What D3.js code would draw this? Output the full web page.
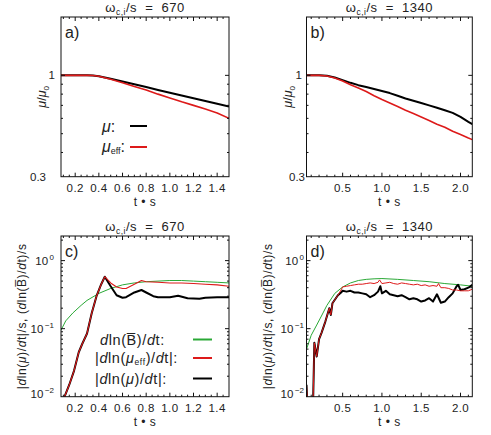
<!DOCTYPE html>
<html><head><meta charset="utf-8">
<script src="https://cdn.jsdelivr.net/npm/d3@7"></script>
<style>body{margin:0;background:#fff}svg{display:block}text{font-family:"Liberation Sans",Arial,sans-serif;fill:#222}</style>
</head><body><svg id="c" width="491" height="435"></svg>
<script>
// ---------- data ----------
const tA      = [0.08,0.2,0.3,0.35,0.4,0.45,0.5,0.6,0.7,0.8,0.9,1.0,1.1,1.2,1.3,1.4,1.5];
const muA     = [1,1,1,0.998,0.99,0.975,0.96,0.929,0.899,0.87,0.841,0.814,0.788,0.762,0.737,0.713,0.69];
const muEffA  = [1,1,1,0.998,0.99,0.972,0.955,0.915,0.875,0.84,0.80,0.765,0.73,0.70,0.67,0.64,0.60];

const tB      = [0.04,0.2,0.3,0.4,0.5,0.6,0.7,0.8,0.9,1.0,1.1,1.2,1.3,1.4,1.5,1.6,1.7,1.8,1.9,2.0,2.1,2.15];
const muB     = [1,1,0.995,0.975,0.945,0.915,0.89,0.87,0.85,0.83,0.81,0.785,0.76,0.74,0.72,0.70,0.68,0.66,0.64,0.61,0.575,0.56];
const muEffB  = [1,1,0.993,0.97,0.935,0.895,0.86,0.825,0.785,0.75,0.72,0.69,0.66,0.635,0.61,0.585,0.56,0.54,0.515,0.495,0.475,0.466];

const tCmu    = [0.11,0.15,0.19,0.23,0.26,0.30,0.34,0.38,0.42,0.45,0.5,0.55,0.6,0.63,0.7,0.76,0.8,0.86,0.9,1.0,1.07,1.15,1.25,1.3,1.4,1.5];
const rateMuC = [0.010,0.015,0.024,0.045,0.060,0.085,0.17,0.30,0.45,0.58,0.42,0.31,0.285,0.29,0.34,0.37,0.34,0.30,0.29,0.29,0.305,0.28,0.275,0.285,0.29,0.29];
const tCeff   = [0.11,0.15,0.19,0.23,0.26,0.30,0.34,0.38,0.42,0.45,0.5,0.55,0.6,0.63,0.7,0.76,0.8,0.9,1.0,1.1,1.2,1.3,1.4,1.5];
const rateEffC= [0.010,0.015,0.024,0.045,0.060,0.085,0.17,0.30,0.45,0.58,0.47,0.41,0.39,0.39,0.45,0.51,0.49,0.48,0.47,0.47,0.46,0.45,0.44,0.42];
const tCb     = [0.08,0.12,0.18,0.25,0.3,0.4,0.5,0.6,0.7,0.8,0.9,1.0,1.1,1.2,1.3,1.4,1.5];
const rateBC  = [0.095,0.13,0.17,0.22,0.26,0.33,0.39,0.44,0.47,0.49,0.50,0.51,0.51,0.50,0.49,0.48,0.47];

const tDmu    = [0.04,0.06,0.12,0.14,0.17,0.20,0.23,0.28,0.33,0.35,0.37,0.44,0.48,0.5,0.55,0.6,0.65,0.7,0.75,0.8,0.85,0.9,0.95,0.98,1.0,1.05,1.1,1.15,1.2,1.25,1.3,1.35,1.4,1.45,1.5,1.55,1.6,1.65,1.7,1.75,1.8,1.85,1.9,1.95,1.97,2.0,2.05,2.1,2.15];
const rateMuD = [0.015,0.005,0.005,0.062,0.039,0.07,0.086,0.127,0.2,0.159,0.236,0.31,0.34,0.36,0.35,0.36,0.34,0.34,0.33,0.32,0.29,0.31,0.35,0.42,0.33,0.36,0.32,0.31,0.30,0.31,0.29,0.27,0.28,0.27,0.25,0.26,0.28,0.25,0.32,0.24,0.25,0.29,0.33,0.42,0.44,0.37,0.38,0.40,0.44];
const tDeff   = [0.04,0.06,0.12,0.14,0.17,0.20,0.23,0.28,0.33,0.35,0.37,0.44,0.48,0.5,0.55,0.6,0.65,0.7,0.75,0.8,0.85,0.9,0.95,0.97,1.0,1.05,1.1,1.15,1.2,1.25,1.3,1.35,1.4,1.45,1.5,1.55,1.6,1.65,1.7,1.72,1.75,1.8,1.85,1.9,1.95,2.0,2.05,2.1,2.15];
const rateEffD= [0.015,0.005,0.005,0.062,0.039,0.07,0.086,0.127,0.2,0.159,0.236,0.31,0.37,0.41,0.42,0.43,0.44,0.45,0.45,0.46,0.47,0.46,0.48,0.52,0.46,0.47,0.48,0.46,0.45,0.47,0.46,0.45,0.44,0.45,0.43,0.44,0.42,0.43,0.42,0.46,0.40,0.40,0.39,0.37,0.37,0.36,0.36,0.36,0.38];
const tDb     = [0.04,0.1,0.17,0.25,0.3,0.4,0.5,0.6,0.7,0.8,0.9,1.0,1.2,1.4,1.6,1.8,2.0,2.15];
const rateBD  = [0.05,0.08,0.113,0.17,0.22,0.33,0.41,0.47,0.51,0.53,0.54,0.545,0.53,0.51,0.49,0.46,0.44,0.42];

const xTicksA = [0.2,0.4,0.6,0.8,1.0,1.2,1.4];
const xTicksB = [0.5,1.0,1.5,2.0];
const yTicksAB = [1,0.3];
const yTicksCD = [1,0.1,0.01];
const titleVals = ["670","1340","670","1340"];
const panelLabels = ["a)","b)","c)","d)"];

const RED="#dd1a1a", GREEN="#2aa836", BLACK="#000";

// ---------- drawing ----------
const svg = d3.select("#c");
const boxes = [
  {x0:61,x1:229,y0:17,y1:176.7},
  {x0:306.5,x1:472.3,y0:17,y1:176.7},
  {x0:61,x1:229,y0:236,y1:396.7},
  {x0:306.5,x1:472.3,y0:236,y1:396.7}
];
const xDomA=[0.08,1.5], xDomB=[0.04,2.15];
const yDomAB=[0.3,2.0], yDomCD=[0.01,2.3];

function fmt(v){return v.toFixed(1);}

function panel(i, xDom, yDom, xMajor, xMinorStep, series){
  const b=boxes[i];
  const x=d3.scaleLinear().domain(xDom).range([b.x0,b.x1]);
  const y=d3.scaleLog().domain(yDom).range([b.y1,b.y0]);
  const g=svg.append("g");
  const cid="clip"+i;
  svg.append("clipPath").attr("id",cid).append("rect")
    .attr("x",b.x0).attr("y",b.y0).attr("width",b.x1-b.x0).attr("height",b.y1-b.y0);
  const line=d3.line().x(d=>x(d[0])).y(d=>y(d[1]));
  series.forEach(s=>{
    g.append("path").attr("clip-path",`url(#${cid})`)
      .attr("d",line(d3.zip(s.t,s.v))).attr("fill","none")
      .attr("stroke",s.c).attr("stroke-width",s.w).attr("stroke-linejoin","round");
  });
  g.append("rect").attr("x",b.x0).attr("y",b.y0).attr("width",b.x1-b.x0).attr("height",b.y1-b.y0)
    .attr("fill","none").attr("stroke","#111").attr("stroke-width",1);
  const minor=d3.range(Math.ceil(xDom[0]/xMinorStep-1e-6)*xMinorStep, xDom[1]+1e-6, xMinorStep);
  const tk=g.append("g").attr("stroke","#111").attr("stroke-width",1);
  minor.forEach(v=>{
    const isMaj = xMajor.some(m=>Math.abs(m-v)<1e-6);
    const L=isMaj?4:2; const px=x(v);
    if(px<=b.x0+0.5||px>=b.x1-0.5) return;
    tk.append("line").attr("x1",px).attr("x2",px).attr("y1",b.y1).attr("y2",b.y1-L);
    tk.append("line").attr("x1",px).attr("x2",px).attr("y1",b.y0).attr("y2",b.y0+L);
  });
  xMajor.forEach(v=>{
    g.append("text").attr("x",x(v)).attr("y",b.y1+15.5).attr("text-anchor","middle")
      .attr("font-size",11.5).attr("letter-spacing",0.4).text(fmt(v));
  });
  const decades=d3.range(Math.floor(Math.log10(yDom[0])), Math.ceil(Math.log10(yDom[1]))+1);
  decades.forEach(dd=>{
    for(let m=1;m<10;m++){
      const v=m*Math.pow(10,dd);
      if(v<yDom[0]*0.999||v>yDom[1]*1.001) continue;
      const py=y(v);
      if(py<=b.y0+0.5||py>=b.y1-0.5) continue;
      const L=(m===1)?4:2;
      tk.append("line").attr("x1",b.x0).attr("x2",b.x0+L).attr("y1",py).attr("y2",py);
      tk.append("line").attr("x1",b.x1).attr("x2",b.x1-L).attr("y1",py).attr("y2",py);
    }
  });
  return {x,y,b,g};
}

const pa=panel(0,xDomA,yDomAB,xTicksA,0.05,[
  {t:tA,v:muA,c:BLACK,w:2},{t:tA,v:muEffA,c:RED,w:1.6}]);
const pb=panel(1,xDomB,yDomAB,xTicksB,0.1,[
  {t:tB,v:muB,c:BLACK,w:2},{t:tB,v:muEffB,c:RED,w:1.6}]);
const pc=panel(2,xDomA,yDomCD,xTicksA,0.05,[
  {t:tCb,v:rateBC,c:GREEN,w:1},
  {t:tCmu,v:rateMuC,c:BLACK,w:2},
  {t:tCeff,v:rateEffC,c:RED,w:1.1}]);
const pd=panel(3,xDomB,yDomCD,xTicksB,0.1,[
  {t:tDb,v:rateBD,c:GREEN,w:1},
  {t:tDmu,v:rateMuD,c:BLACK,w:2},
  {t:tDeff,v:rateEffD,c:RED,w:1}]);

const P=[pa,pb,pc,pd];

[pa,pb].forEach((p,k)=>{
  const endX = k===0 ? [55,46] : [302,305];
  yTicksAB.forEach((v,j)=>{
    p.g.append("text").attr("x",endX[j]).attr("y",p.y(v)+4).attr("text-anchor","end")
      .attr("font-size",11.5).text(v===1?"1":"0.3");
  });
});
[pc,pd].forEach((p,k)=>{
  const endX = k===0 ? 54 : 304;
  yTicksCD.forEach(v=>{
    const e=Math.round(Math.log10(v));
    const t=p.g.append("text").attr("x",endX).attr("y",p.y(v)+ (e===-2?1:4)).attr("text-anchor","end").attr("font-size",11.5);
    t.append("tspan").text("10");
    t.append("tspan").attr("font-size",8).attr("dy",-5).attr("dx",1.5).text(e===0?"0":"\u2212"+(-e));
  });
});

P.forEach((p,i)=>{
  const cx=(p.b.x0+p.b.x1)/2;
  const t=svg.append("text").attr("x",cx).attr("y",p.b.y0-5.5).attr("text-anchor","middle").attr("font-size",13).attr("letter-spacing",0.5);
  t.append("tspan").text("\u03c9");
  t.append("tspan").attr("font-size",8.5).attr("dy",3).text("c,i");
  t.append("tspan").attr("dy",-3).text("/s\u00a0\u00a0=\u00a0\u00a0"+titleVals[i]);
  svg.append("text").attr("x",cx).attr("y",p.b.y1+29).attr("text-anchor","middle").attr("font-size",12)
    .attr("letter-spacing",0.5).text("t \u2022 s");
  svg.append("text").attr("x",p.b.x0+4).attr("y",p.b.y0+21).attr("font-size",16).text(panelLabels[i]);
});

function yTitleMu(p,cx){
  const cy=(p.b.y0+p.b.y1)/2;
  const t=svg.append("text").attr("transform",`translate(${cx},${cy}) rotate(-90)`).attr("text-anchor","middle").attr("font-size",12.5);
  t.append("tspan").attr("font-style","italic").text("\u03bc");
  t.append("tspan").text("/");
  t.append("tspan").attr("font-style","italic").text("\u03bc");
  t.append("tspan").attr("font-size",8).attr("dy",3).text("0");
}
yTitleMu(pa,46); yTitleMu(pb,291.5);
function yTitleRate(p,cx){
  const cy=(p.b.y0+p.b.y1)/2;
  const t=svg.append("text").attr("transform",`translate(${cx},${cy}) rotate(-90)`).attr("text-anchor","middle").attr("font-size",12).attr("letter-spacing",0.6);
  t.append("tspan").text("|");
  t.append("tspan").attr("font-style","italic").text("d");
  t.append("tspan").text("ln(");
  t.append("tspan").attr("font-style","italic").text("\u03bc");
  t.append("tspan").text(")/");
  t.append("tspan").attr("font-style","italic").text("d");
  t.append("tspan").text("t|/s, (");
  t.append("tspan").attr("font-style","italic").text("d");
  t.append("tspan").text("ln(B\u0305)/");
  t.append("tspan").attr("font-style","italic").text("d");
  t.append("tspan").text("t)/s");
}
yTitleRate(pc,26); yTitleRate(pd,271.5);

function legendMu(){
  const g=svg.append("g");
  const t1=g.append("text").attr("x",102).attr("y",132).attr("font-size",16);
  t1.append("tspan").attr("font-style","italic").text("\u03bc");
  t1.append("tspan").text(":");
  g.append("line").attr("x1",130).attr("x2",147).attr("y1",126).attr("y2",126).attr("stroke",BLACK).attr("stroke-width",2);
  const t2=g.append("text").attr("x",102).attr("y",152).attr("font-size",16);
  t2.append("tspan").attr("font-style","italic").text("\u03bc");
  t2.append("tspan").attr("font-size",9).attr("dy",2).text("eff");
  t2.append("tspan").attr("dy",-2).text(":");
  g.append("line").attr("x1",130).attr("x2",147).attr("y1",147).attr("y2",147).attr("stroke",RED).attr("stroke-width",2);
}
legendMu();

function legendRate(){
  const g=svg.append("g");
  const rows=[{y:339.5,c:GREEN,k:0},{y:358,c:RED,k:1},{y:378.5,c:BLACK,k:2}];
  rows.forEach(r=>{
    const t=g.append("text").attr("x",r.k===0?100:95).attr("y",r.y+5).attr("font-size",14.5).attr("letter-spacing",0.6);
    if(r.k===0){
      t.append("tspan").attr("font-style","italic").text("d");
      t.append("tspan").text("ln(B\u0305)/");
      t.append("tspan").attr("font-style","italic").text("d");
      t.append("tspan").text("t:");
    } else {
      t.append("tspan").text("|");
      t.append("tspan").attr("font-style","italic").text("d");
      t.append("tspan").text("ln(");
      t.append("tspan").attr("font-style","italic").text("\u03bc");
      if(r.k===1){ t.append("tspan").attr("font-size",8.5).attr("dy",2).text("eff"); t.append("tspan").attr("dy",-2).text(")/"); }
      else t.append("tspan").text(")/");
      t.append("tspan").attr("font-style","italic").text("d");
      t.append("tspan").text("t|:");
    }
    g.append("line").attr("x1",193).attr("x2",212).attr("y1",r.y).attr("y2",r.y).attr("stroke",r.c).attr("stroke-width",2);
  });
}
legendRate();
</script></body></html>
